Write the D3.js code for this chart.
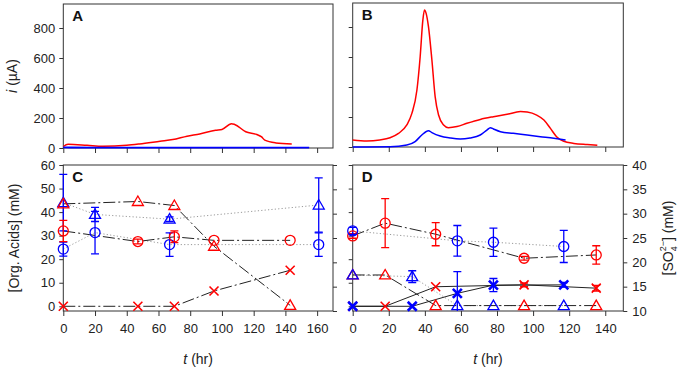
<!DOCTYPE html>
<html><head><meta charset="utf-8">
<script src="https://cdnjs.cloudflare.com/ajax/libs/d3/7.8.5/d3.min.js"></script>
<style>body{margin:0;background:#fff}svg{font-family:Arial,"Liberation Sans",sans-serif}</style>
</head><body><svg id="c" width="680" height="370"></svg>
<script>
// Panel A: current vs time
const aRedT = [0,3,15,25,40,48,61,69,78,86,96,100,106,108,115,122,125,127,134,144];
const aRedI = [10,25,18,11,18,27,45,56,79,94,119,124,162,157,108,90,74,52,34,27];
const aBlueT = [0,20,60,100,155];
const aBlueI = [4,2,2,2,2];
// Panel B
const bRedT = [0,7.8,15,20.7,25.4,30,32.8,35.6,37.4,38.9,39.8,40.7,42,43.9,45.7,47.6,50.4,53,57.8,63.3,70.7,78,85.6,93,96.7,102,106,109.6,113,117,122.6,130,135.6];
const bRedI = [47,40,47,62,91,147,224,380,602,847,913,891,802,580,336,213,147,129,136,158,184,202,218,236,233,213,180,124,69,38,24,16,11];
const bBlueT = [0,20.7,30,34.6,38.3,42,43.9,48.5,54,59.6,65,70.7,74.4,76.3,78,81.9,89,96.7,104,111.5,118];
const bBlueI = [0,2,13,36,80,109,96,73,60,53,60,80,113,129,120,102,91,80,69,58,47];
// Panel C (organic acids, mM)
const cRedTriT = [0,47,70,95,143],  cRedTriV = [43.5,44.5,42.8,25.5,0.4];
const cRedCirT = [0,47,70,95,143],  cRedCirV = [32,27.5,29.5,28,28], cRedCirE = [4.5,1,2.5,0,0];
const cRedXT   = [0,47,70,95,143],  cRedXV   = [0,0,0,6.5,15.3];
const cBlueTriT = [0,20,67,161],    cBlueTriV = [44,39,37,43],  cBlueTriE = [12,3,1,11.5];
const cBlueCirT = [0,20,67,161],    cBlueCirV = [24.3,31.3,26.2,26.2], cBlueCirE = [3,9,5,5];
// Panel D
const dRedCirT = [0,18,46,95,135],  dRedCirV = [29.9,35.3,30.6,20.4,21.8], dRedCirE = [1,10.4,4.9,0.8,3.9];
const dBlueCirT = [0,58,78,117],    dBlueCirV = [32,27.8,27.2,25.4], dBlueCirE = [1.5,6.5,6,6.8];
const dRedTriT = [0,18,46,95,135],  dRedTriV = [13.3,13.3,0.3,0.3,0.3];
const dBlueTriT = [0,33,58,78,117], dBlueTriV = [13.3,12.6,0.3,0.3,0.3], dBlueTriE = [0,2.5,0,0,0];
const dRedXT = [0,18,46,95,135],    dRedXV = [0,0,8.3,9.1,7.7], dRedXE = [0,0,0,0.8,1.2];
const dBlueXT = [0,33,58,78,117],   dBlueXV = [0,0,5.5,9,9.1], dBlueXE = [0,0,9.2,2.8,1];

const xTicksC = [0,20,40,60,80,100,120,140,160];
const xTicksD = [0,20,40,60,80,100,120,140];
const iTicks = [0,200,400,600,800];
const orgTicks = [0,10,20,30,40,50,60];
const so4Ticks = [10,15,20,25,30,35,40];

const RED = "#ff0000", BLUE = "#0000ff", FRAME = "#333";
const svg = d3.select("#c");

const P = {
  A:{l:63.3,r:333,t:4,b:148},
  B:{l:352.7,r:623.3,t:3,b:147},
  C:{l:63.3,r:333,t:165,b:311},
  D:{l:352.7,r:623.3,t:165,b:311}
};
const xC = d3.scaleLinear().domain([0,170]).range([P.C.l,P.C.r]);
const xD = d3.scaleLinear().domain([0,150]).range([P.D.l,P.D.r]);
const yA = d3.scaleLinear().domain([0,960]).range([P.A.b,P.A.t]);
const yB = d3.scaleLinear().domain([0,960]).range([P.B.b,P.B.t]);
const yC = d3.scaleLinear().domain([-2,60]).range([P.C.b,P.C.t]);
const yD = d3.scaleLinear().domain([-2,60]).range([P.D.b,P.D.t]);
const yRC = d3.scaleLinear().domain([10,40]).range([P.C.b,P.C.t]);
const yRD = d3.scaleLinear().domain([10,40]).range([P.D.b,P.D.t]);

function frame(p, name){
  svg.append("clipPath").attr("id","clip"+name).append("rect")
    .attr("x",p.l-12).attr("y",p.t-12).attr("width",p.r-p.l+24).attr("height",p.b-p.t+12);
}
Object.keys(P).forEach(k=>frame(P[k],k));

function axes(p, x, y, xt, yt, showX, showY, yR, yRt, showR){
  const gx = svg.append("g").attr("transform",`translate(0,${p.b})`)
    .call(d3.axisBottom(x).tickValues(xt).tickSize(5).tickPadding(8).tickFormat(showX?d3.format("d"):""));
  const gy = svg.append("g").attr("transform",`translate(${p.l},0)`)
    .call(d3.axisLeft(y).tickValues(yt).tickSize(4).tickPadding(4).tickFormat(showY?d3.format("d"):""));
  const gs=[gx,gy];
  if(yR){
    const gr = svg.append("g").attr("transform",`translate(${p.r},0)`)
      .call(d3.axisRight(yR).tickValues(yRt).tickSize(4).tickPadding(5).tickFormat(showR?d3.format("d"):""));
    gs.push(gr);
  }
  gs.forEach(g=>{
    g.select(".domain").remove();
    g.selectAll("line").attr("stroke",FRAME);
    g.selectAll("text").attr("font-size",13).attr("fill","#222").attr("font-family","Arial, Liberation Sans, sans-serif");
  });
  svg.append("rect").attr("x",p.l).attr("y",p.t).attr("width",p.r-p.l).attr("height",p.b-p.t)
    .attr("fill","none").attr("stroke",FRAME).attr("stroke-width",1);
}
axes(P.A,xC,yA,xTicksC,iTicks,false,true);
axes(P.B,xD,yB,xTicksD,iTicks,false,false);
axes(P.C,xC,yC,xTicksC,orgTicks,true,true,yRC,so4Ticks,false);
axes(P.D,xD,yD,xTicksD,orgTicks,true,false,yRD,so4Ticks,true);

function curve(x,y,T,V,color,w){
  svg.append("path")
    .datum(T.map((t,i)=>[t,V[i]]))
    .attr("d",d3.line().x(d=>x(d[0])).y(d=>y(d[1])).curve(d3.curveMonotoneX))
    .attr("fill","none").attr("stroke",color).attr("stroke-width",w);
}
curve(xC,yA,aRedT,aRedI,RED,1.5);
curve(xC,yA,aBlueT,aBlueI,BLUE,1.8);
curve(xD,yB,bRedT,bRedI,RED,1.5);
curve(xD,yB,bBlueT,bBlueI,BLUE,1.5);

const DASHDOT="12,3,2,3", DOT="1.2,2.2";
function link(name,x,y,T,V,style){
  const s = style==="dashdot"?{c:"#222",d:DASHDOT,w:1}:style==="dot"?{c:"#999",d:DOT,w:1}:{c:"#222",d:null,w:1};
  svg.append("path").attr("clip-path",`url(#clip${name})`)
    .datum(T.map((t,i)=>[t,V[i]]))
    .attr("d",d3.line().x(d=>x(d[0])).y(d=>y(d[1])))
    .attr("fill","none").attr("stroke",s.c).attr("stroke-width",s.w).attr("stroke-dasharray",s.d);
}
function errs(name,x,y,T,V,E,color,w){
  const g=svg.append("g").attr("clip-path",`url(#clip${name})`).attr("stroke",color).attr("stroke-width",w||1.3);
  T.forEach((t,i)=>{
    if(!E||!E[i]) return;
    const cx=x(t), y1=y(V[i]-E[i]), y2=y(V[i]+E[i]);
    g.append("line").attr("x1",cx).attr("x2",cx).attr("y1",y1).attr("y2",y2);
    g.append("line").attr("x1",cx-4).attr("x2",cx+4).attr("y1",y1).attr("y2",y1);
    g.append("line").attr("x1",cx-4).attr("x2",cx+4).attr("y1",y2).attr("y2",y2);
  });
}
function marks(x,y,T,V,shape,color,w){
  const g=svg.append("g").attr("fill","none").attr("stroke",color).attr("stroke-width",w||1.3);
  T.forEach((t,i)=>{
    const cx=x(t), cy=y(V[i]);
    if(shape==="circle") g.append("circle").attr("cx",cx).attr("cy",cy).attr("r",5);
    else if(shape==="tri") g.append("path").attr("d",`M${cx},${cy-5.5}L${cx+5.5},${cy+4}L${cx-5.5},${cy+4}Z`);
    else g.append("path").attr("d",`M${cx-4.5},${cy-4.5}L${cx+4.5},${cy+4.5}M${cx+4.5},${cy-4.5}L${cx-4.5},${cy+4.5}`);
  });
}
// Panel C
link("C",xC,yC,cBlueTriT,cBlueTriV,"dot");
link("C",xC,yC,cBlueCirT,cBlueCirV,"dot");
link("C",xC,yC,cRedTriT,cRedTriV,"dashdot");
link("C",xC,yC,cRedCirT,cRedCirV,"dashdot");
link("C",xC,yC,cRedXT,cRedXV,"dashdot");
errs("C",xC,yC,cBlueTriT,cBlueTriV,cBlueTriE,BLUE);
errs("C",xC,yC,cBlueCirT,cBlueCirV,cBlueCirE,BLUE);
errs("C",xC,yC,cRedCirT,cRedCirV,cRedCirE,RED);
marks(xC,yC,cBlueTriT,cBlueTriV,"tri",BLUE);
marks(xC,yC,cBlueCirT,cBlueCirV,"circle",BLUE);
marks(xC,yC,cRedTriT,cRedTriV,"tri",RED);
marks(xC,yC,cRedCirT,cRedCirV,"circle",RED);
marks(xC,yC,cRedXT,cRedXV,"x",RED,1.6);
// Panel D
link("D",xD,yD,dBlueCirT,dBlueCirV,"dot");
link("D",xD,yD,dBlueTriT,dBlueTriV,"dot");
link("D",xD,yD,dRedCirT,dRedCirV,"dashdot");
link("D",xD,yD,dRedTriT,dRedTriV,"dashdot");
link("D",xD,yD,dRedXT,dRedXV,"solid");
link("D",xD,yD,dBlueXT,dBlueXV,"solid");
errs("D",xD,yD,dRedCirT,dRedCirV,dRedCirE,RED);
errs("D",xD,yD,dBlueCirT,dBlueCirV,dBlueCirE,BLUE);
errs("D",xD,yD,dBlueTriT,dBlueTriV,dBlueTriE,BLUE);
errs("D",xD,yD,dRedXT,dRedXV,dRedXE,RED);
errs("D",xD,yD,dBlueXT,dBlueXV,dBlueXE,BLUE);
marks(xD,yD,dRedCirT,dRedCirV,"circle",RED);
marks(xD,yD,dBlueCirT,dBlueCirV,"circle",BLUE);
marks(xD,yD,dRedTriT,dRedTriV,"tri",RED);
marks(xD,yD,dBlueTriT,dBlueTriV,"tri",BLUE);
marks(xD,yD,dRedXT,dRedXV,"x",RED,1.6);
marks(xD,yD,dBlueXT,dBlueXV,"x",BLUE,2.6);

// Panel letters
[["A",P.A],["B",P.B],["C",P.C],["D",P.D]].forEach(([s,p])=>{
  svg.append("text").attr("x",p.l+9).attr("y",p.t+17).attr("font-size",15).attr("font-weight","bold").attr("fill","#111").text(s);
});
// Axis labels
const t1=svg.append("text").attr("transform",`translate(17,${(P.A.t+P.A.b)/2}) rotate(-90)`).attr("text-anchor","middle").attr("font-size",14).attr("fill","#222");
t1.append("tspan").attr("font-style","italic").text("i");
t1.append("tspan").text(" (µA)");
svg.append("text").attr("transform",`translate(19,${(P.C.t+P.C.b)/2}) rotate(-90)`).attr("text-anchor","middle").attr("font-size",14).attr("fill","#222").text("[Org. Acids] (mM)");
[[P.C],[P.D]].forEach(([p])=>{
  const t=svg.append("text").attr("x",(p.l+p.r)/2).attr("y",364).attr("text-anchor","middle").attr("font-size",14).attr("fill","#222");
  t.append("tspan").attr("font-style","italic").text("t");
  t.append("tspan").text(" (hr)");
});
const so=svg.append("text").attr("transform",`translate(673,${(P.D.t+P.D.b)/2}) rotate(-90)`).attr("text-anchor","middle").attr("font-size",14).attr("fill","#222");
so.append("tspan").text("[SO");
so.append("tspan").attr("font-size",9).attr("dy",4).text("4");
so.append("tspan").attr("font-size",9).attr("dx",-5).attr("dy",-11).text("2−");
so.append("tspan").attr("dy",7).text("] (mM)");
</script></body></html>
